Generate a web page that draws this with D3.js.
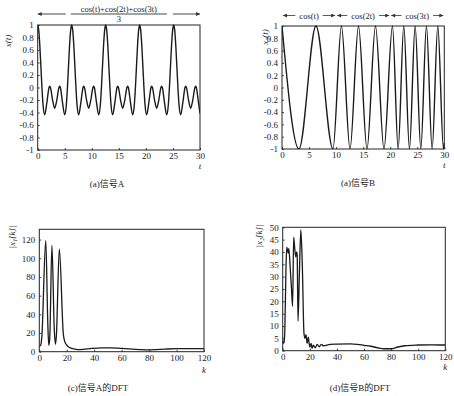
<!DOCTYPE html>
<html>
<head>
<meta charset="utf-8">
<script src="https://cdn.jsdelivr.net/npm/d3@7"></script>
<style>
    body { margin: 0; background: #fff; }
    svg { display: block; }
    text { font-family: "Liberation Serif", "DejaVu Serif", "Noto Sans CJK SC", serif; fill: #222; }
</style>
</head>
<body>
<svg id="chart" width="454" height="396"></svg>
<script>
// 信号A: (cos t + cos 2t + cos 3t)/3, 读图得到的关键点 [t, x]
const signalA = [
    [0, 1], [0.2, 0.909], [0.4, 0.66], [0.6, 0.32], [0.785, 0], [1.0, -0.289], [1.29, -0.438], [1.7, -0.239],
    [2.094, 0], [2.22, 0.02], [2.356, 0], [2.75, -0.201], [3.142, -0.333], [3.533, -0.201], [3.927, 0], [4.063, 0.02],
    [4.189, 0], [4.583, -0.239], [4.993, -0.438], [5.283, -0.289], [5.498, 0], [5.683, 0.32], [5.883, 0.66], [6.083, 0.909],
    [6.283, 1], [6.483, 0.909], [6.683, 0.66], [6.883, 0.32], [7.068, 0], [7.283, -0.289], [7.573, -0.438], [7.983, -0.239],
    [8.377, 0], [8.503, 0.02], [8.639, 0], [9.033, -0.201], [9.425, -0.333], [9.816, -0.201], [10.21, 0], [10.346, 0.02],
    [10.472, 0], [10.866, -0.239], [11.276, -0.438], [11.566, -0.289], [11.781, 0], [11.966, 0.32], [12.166, 0.66], [12.366, 0.909],
    [12.566, 1], [12.766, 0.909], [12.966, 0.66], [13.166, 0.32], [13.351, 0], [13.566, -0.289], [13.856, -0.438], [14.266, -0.239],
    [14.66, 0], [14.786, 0.02], [14.922, 0], [15.316, -0.201], [15.708, -0.333], [16.099, -0.201], [16.493, 0], [16.629, 0.02],
    [16.755, 0], [17.149, -0.239], [17.559, -0.438], [17.849, -0.289], [18.064, 0], [18.249, 0.32], [18.449, 0.66], [18.649, 0.909],
    [18.85, 1], [19.05, 0.909], [19.25, 0.66], [19.45, 0.32], [19.635, 0], [19.85, -0.289], [20.14, -0.438], [20.55, -0.239],
    [20.944, 0], [21.07, 0.02], [21.206, 0], [21.6, -0.201], [21.992, -0.333], [22.383, -0.201], [22.777, 0], [22.913, 0.02],
    [23.039, 0], [23.433, -0.239], [23.843, -0.438], [24.133, -0.289], [24.348, 0], [24.533, 0.32], [24.733, 0.66], [24.933, 0.909],
    [25.133, 1], [25.333, 0.909], [25.533, 0.66], [25.733, 0.32], [25.918, 0], [26.133, -0.289], [26.423, -0.438], [26.833, -0.239],
    [27.227, 0], [27.353, 0.02], [27.489, 0], [27.883, -0.201], [28.275, -0.333], [28.666, -0.201], [29.06, 0], [29.196, 0.02],
    [29.322, 0], [29.716, -0.239], [30, -0.415]
];

// 信号B: cos(t) -> cos(2t) -> cos(3t), 极值点 [t, x]
const signalB = [
    [0, 1], [3.14, -1], [6.28, 1], [9.42, -1], [10.99, 1], [12.57, -1], [14.14, 1], [15.71, -1], [17.28, 1],
    [18.85, -1], [20.42, 1], [21.47, -1], [22.51, 1], [23.56, -1], [24.61, 1], [25.66, -1], [26.70, 1],
    [27.75, -1], [28.80, 1], [29.85, -1], [30, -0.9]
];

// 信号A的DFT幅度 [k, |X1[k]|]
const dftA = [
    [0, 6], [1, 7], [1.8, 15], [4.7, 119], [6.2, 30], [6.9, 7], [7.6, 14], [9.2, 114], [10.9, 24], [11.7, 8],
    [12.4, 16], [14.6, 110], [17.5, 19], [18.5, 11], [20, 7], [22, 4.5], [25, 3], [28, 2.2], [32, 2.5], [38, 3.5],
    [45, 4.2], [52, 4.2], [60, 3.5], [68, 2.8], [75, 2.2], [80, 2], [85, 2.3], [92, 2.8], [100, 3.2], [110, 3.3], [120, 3.2]
];

// 信号B的DFT幅度 [k, |X2[k]|]
const dftB = [
    [0, 4], [0.5, 3], [1, 3.5], [1.6, 9], [2.4, 33], [3, 42], [4.1, 39.5], [4.5, 41.5], [5.5, 34], [6.5, 25],
    [7.3, 18], [8.1, 46], [8.8, 42], [9.6, 38], [10.3, 40], [10.7, 38.5], [11.3, 12], [12.3, 31], [13.4, 49],
    [14.5, 34], [15.7, 7], [16.5, 5], [17.2, 6.5], [18, 3], [18.9, 5.5], [19.5, 3], [20.1, 1.5], [21, 3],
    [21.6, 1], [22.6, 2.2], [24, 1.2], [25.5, 2.6], [27, 1.6], [28.5, 2.6], [30, 2], [35, 2.6], [40, 2.7],
    [50, 2.8], [55, 2.6], [60, 2.2], [65, 1.8], [70, 1.2], [75, 0.8], [80, 0.8], [85, 1.5], [90, 2],
    [100, 2.3], [110, 2.4], [120, 2.3]
];

// 刻度
const timeTicks = [0, 5, 10, 15, 20, 25, 30];
const ampTicks = [-1, -0.8, -0.6, -0.4, -0.2, 0, 0.2, 0.4, 0.6, 0.8, 1];
const kTicks = [0, 20, 40, 60, 80, 100, 120];
const dftATicks = [0, 20, 40, 60, 80, 100, 120];
const dftBTicks = [0, 5, 10, 15, 20, 25, 30, 35, 40, 45, 50];

// 信号B的分段说明
const segmentsB = [
    {from: 0, to: 10, label: 'cos(t)'},
    {from: 10, to: 20, label: 'cos(2t)'},
    {from: 20, to: 30, label: 'cos(3t)'}
];

let svg = d3.select('#chart');

// 箭头
svg.append('defs').append('marker')
    .attr('id', 'arrow')
    .attr('viewBox', '0 0 10 10')
    .attr('refX', 10).attr('refY', 5)
    .attr('markerWidth', 5).attr('markerHeight', 4)
    .attr('markerUnits', 'userSpaceOnUse')
    .attr('orient', 'auto')
    .append('path').attr('d', 'M0,0L10,5L0,10Z').attr('fill', '#333');

let drawPanel = function (cfg) {
    let x = d3.scaleLinear().domain(cfg.xDomain).range([cfg.left, cfg.right]);
    let y = d3.scaleLinear().domain(cfg.yDomain).range([cfg.bottom, cfg.top]);
    let g = svg.append('g');

    //坐标轴
    let xAxis = g.append('g')
        .attr('transform', `translate(0,${cfg.bottom})`)
        .call(d3.axisBottom(x).tickValues(cfg.xTicks).tickSizeInner(-2).tickSizeOuter(0).tickPadding(3));
    let yAxis = g.append('g')
        .attr('transform', `translate(${cfg.left},0)`)
        .call(d3.axisLeft(y).tickValues(cfg.yTicks).tickSizeInner(-2).tickSizeOuter(0).tickPadding(4)
            .tickFormat(d => String(d)));
    [xAxis, yAxis].forEach(a => {
        a.select('.domain').remove();
        a.selectAll('.tick line').attr('stroke', '#444');
        a.selectAll('text').attr('font-size', 9).attr('fill', '#222')
            .attr('font-family', '"Liberation Serif", serif');
    });

    //外框
    g.append('rect')
        .attr('x', cfg.left).attr('y', cfg.top)
        .attr('width', cfg.right - cfg.left).attr('height', cfg.bottom - cfg.top)
        .attr('fill', 'none').attr('stroke', '#222').attr('stroke-width', 1);

    //曲线
    let clipId = 'clip' + cfg.id;
    g.append('clipPath').attr('id', clipId).append('rect')
        .attr('x', cfg.left).attr('y', cfg.top - 1)
        .attr('width', cfg.right - cfg.left).attr('height', cfg.bottom - cfg.top + 1);
    let line = d3.line()
        .x(d => x(d[0]))
        .y(d => y(d[1]))
        .curve(d3.curveMonotoneX);
    g.append('path')
        .attr('clip-path', `url(#${clipId})`)
        .attr('d', line(cfg.data))
        .attr('fill', 'none')
        .attr('stroke', '#1a1a1a')
        .attr('stroke-width', cfg.lineWidth || 1.4);

    //轴标题
    g.append('text')
        .attr('transform', `translate(${cfg.yLabelX},${cfg.yLabelY}) rotate(-90)`)
        .attr('text-anchor', 'middle')
        .attr('font-size', 9)
        .attr('font-style', 'italic')
        .text(cfg.yLabel);
    g.append('text')
        .attr('x', cfg.right).attr('y', cfg.xLabelY)
        .attr('text-anchor', 'middle')
        .attr('font-size', 9)
        .attr('font-style', 'italic')
        .text(cfg.xLabel);
    //图注
    g.append('text')
        .attr('x', cfg.captionX).attr('y', cfg.captionY)
        .attr('text-anchor', 'middle')
        .attr('font-size', 9)
        .text(cfg.caption);

    return {g, x, y};
};

let pa = drawPanel({
    id: 'a', data: signalA, xDomain: [0, 30], yDomain: [-1, 1],
    left: 37.7, right: 200, top: 25, bottom: 150,
    xTicks: timeTicks, yTicks: ampTicks,
    yLabel: 'x(t)', yLabelX: 11, yLabelY: 41,
    xLabel: 't', xLabelY: 169,
    caption: '(a)信号A', captionX: 107, captionY: 187
});
let pb = drawPanel({
    id: 'b', data: signalB, xDomain: [0, 30], yDomain: [-1, 1],
    left: 282, right: 444.3, top: 26, bottom: 149,
    xTicks: timeTicks, yTicks: ampTicks,
    yLabel: 'x\u2082(t)', yLabelX: 268, yLabelY: 37,
    xLabel: 't', xLabelY: 168,
    caption: '(a)信号B', captionX: 358, captionY: 186
});
drawPanel({
    id: 'c', data: dftA, xDomain: [0, 120], yDomain: [0, 131],
    left: 39.3, right: 204, top: 229.3, bottom: 351.7,
    xTicks: kTicks, yTicks: dftATicks,
    yLabel: '|x\u2081[k]|', yLabelX: 15, yLabelY: 237,
    xLabel: 'k', xLabelY: 373,
    caption: '(c)信号A的DFT', captionX: 98, captionY: 391, lineWidth: 1.3
});
drawPanel({
    id: 'd', data: dftB, xDomain: [0, 120], yDomain: [0, 50],
    left: 282.7, right: 445.3, top: 227.3, bottom: 350.7,
    xTicks: kTicks, yTicks: dftBTicks,
    yLabel: '|x\u2082[k]|', yLabelX: 262, yLabelY: 236,
    xLabel: 'k', xLabelY: 370,
    caption: '(d)信号B的DFT', captionX: 360, captionY: 391, lineWidth: 1.3
});

//信号A上方的分式说明
let cx = (pa.x(0) + pa.x(30)) / 2;
let num = pa.g.append('text')
    .attr('x', cx).attr('y', 11.5)
    .attr('text-anchor', 'middle')
    .attr('font-size', 8.5)
    .text('cos(t)+cos(2t)+cos(3t)');
let half = num.node().getComputedTextLength() / 2 + 10;
pa.g.append('line')
    .attr('x1', cx - half).attr('x2', cx + half)
    .attr('y1', 14).attr('y2', 14)
    .attr('stroke', '#333').attr('stroke-width', 0.9);
pa.g.append('text')
    .attr('x', cx).attr('y', 22)
    .attr('text-anchor', 'middle')
    .attr('font-size', 8.5)
    .text('3');
pa.g.append('line')
    .attr('x1', cx - half - 5).attr('x2', pa.x(0))
    .attr('y1', 14).attr('y2', 14)
    .attr('stroke', '#333').attr('stroke-width', 0.9)
    .attr('marker-end', 'url(#arrow)');
pa.g.append('line')
    .attr('x1', cx + half + 6).attr('x2', pa.x(30))
    .attr('y1', 14).attr('y2', 14)
    .attr('stroke', '#333').attr('stroke-width', 0.9)
    .attr('marker-end', 'url(#arrow)');

//信号B上方的分段说明
segmentsB.forEach(s => {
    let x0 = pb.x(s.from), x1 = pb.x(s.to), mid = (x0 + x1) / 2;
    let t = pb.g.append('text')
        .attr('x', mid).attr('y', 18.5)
        .attr('text-anchor', 'middle')
        .attr('font-size', 8.5)
        .text(s.label);
    let w = t.node().getComputedTextLength() / 2 + 4;
    pb.g.append('line')
        .attr('x1', mid - w).attr('x2', x0 + 1)
        .attr('y1', 15.5).attr('y2', 15.5)
        .attr('stroke', '#333').attr('stroke-width', 0.8)
        .attr('marker-end', 'url(#arrow)');
    pb.g.append('line')
        .attr('x1', mid + w).attr('x2', x1 - 1)
        .attr('y1', 15.5).attr('y2', 15.5)
        .attr('stroke', '#333').attr('stroke-width', 0.8)
        .attr('marker-end', 'url(#arrow)');
});
</script>
</body>
</html>
